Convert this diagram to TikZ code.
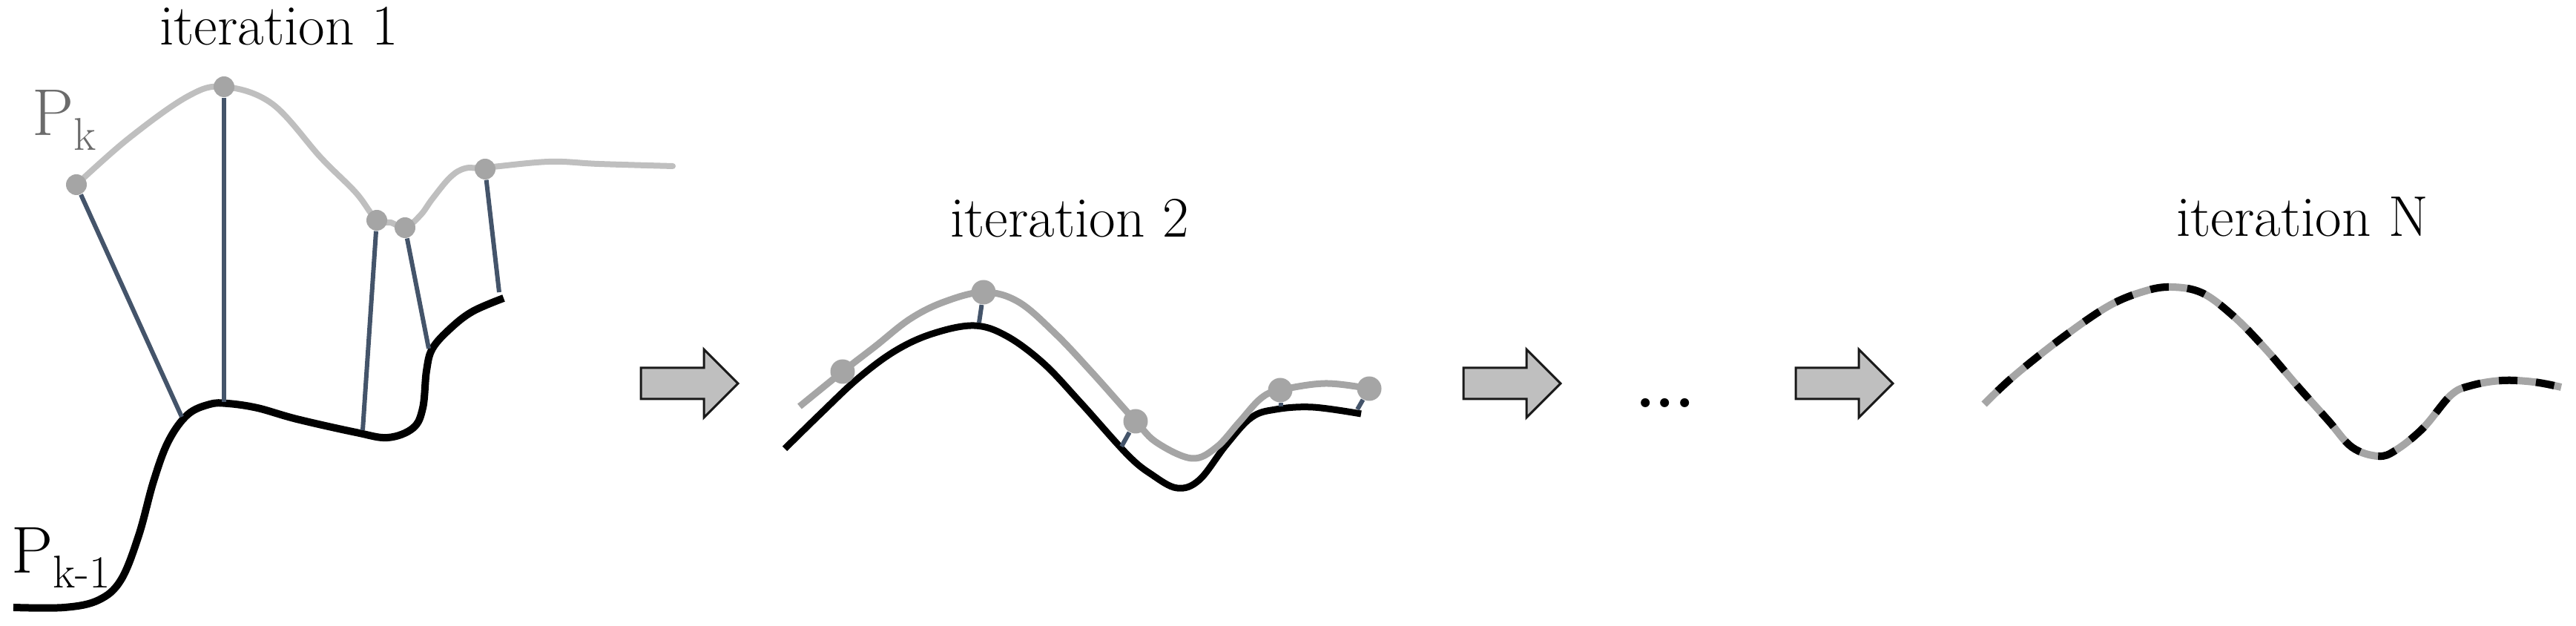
\documentclass[tikz,border=0pt]{standalone}
\usepackage{tikz}
\usetikzlibrary{shapes.arrows}

\definecolor{pkgray}{HTML}{BFBFBF}
\definecolor{dotgray}{HTML}{A5A5A5}
\definecolor{linkblue}{HTML}{44546A}
\definecolor{labelgray}{HTML}{6B6B6B}

\begin{document}
\begin{tikzpicture}[
    title/.style={font=\fontsize{22}{26}\selectfont, inner sep=0pt, anchor=base},
    curvelabel/.style={font=\fontsize{25.4}{30}\selectfont, inner sep=0pt, anchor=base west},
    newcurve/.style={draw=pkgray, line width=0.08cm, line cap=round},
    oldcurve/.style={draw=black, line width=0.1cm},
    link/.style={draw=linkblue, line width=0.06cm},
    sample/.style={circle, fill=dotgray, inner sep=0pt, minimum size=0.28cm},
    bigarrow/.style={single arrow, draw=black!90, line width=0.03cm, fill=pkgray,
        inner sep=0pt, text height=0.39cm, text depth=0pt, minimum height=1.31cm,
        single arrow head extend=0.25cm}
]
    \useasboundingbox (0,0) rectangle (34.73,8.44);

    % Iteration 1
    \node[title] (t1) at (3.76,7.83) {iteration 1};
    \node[curvelabel, text=labelgray] (pk) at (0.43,6.61)
        {P\raisebox{-0.2cm}{\fontsize{17.6}{20}\selectfont k}};
    \node[curvelabel] (pk1) at (0.15,0.71)
        {P\raisebox{-0.2cm}{\fontsize{17.6}{20}\selectfont k-1}};

    \draw[newcurve] plot[smooth, tension=0.6] coordinates {
        (1.03,5.95) (1.73,6.57) (2.53,7.14) (3.02,7.27) (3.67,7.04) (4.33,6.31)
        (4.80,5.84) (5.08,5.47) (5.27,5.44) (5.46,5.37) (5.67,5.54) (5.83,5.76)
        (6.07,6.05) (6.27,6.17) (6.54,6.18) (7.40,6.26) (8.07,6.23) (9.07,6.20)};
    \draw[oldcurve] plot[smooth, tension=0.6] coordinates {
        (0.18,0.25) (0.87,0.25) (1.33,0.35) (1.63,0.62) (1.87,1.22) (2.07,1.95)
        (2.27,2.49) (2.53,2.85) (2.83,2.99) (3.07,3.00) (3.47,2.94) (4.00,2.79)
        (4.80,2.61) (5.23,2.54) (5.57,2.67) (5.70,2.94) (5.75,3.44) (5.83,3.74)
        (6.07,4.01) (6.37,4.24) (6.79,4.42)};

    \node[sample] (a1) at (1.03,5.95) {};
    \node[sample] (a2) at (3.02,7.27) {};
    \node[sample] (a3) at (5.08,5.47) {};
    \node[sample] (a4) at (5.46,5.37) {};
    \node[sample] (a5) at (6.54,6.16) {};
    \coordinate (b1) at (2.45,2.82);
    \coordinate (b2) at (3.02,3.02);
    \coordinate (b3) at (4.89,2.64);
    \coordinate (b4) at (5.78,3.74);
    \coordinate (b5) at (6.73,4.50);
    \foreach \i in {1,...,5}
        \draw[link] (a\i) -- (b\i);

    \node[bigarrow] (arr1) at (9.19,3.27) {};

    % Iteration 2
    \node[title] (t2) at (14.42,5.24) {iteration 2};

    \draw[oldcurve, line width=0.09cm] plot[smooth, tension=0.6] coordinates {
        (10.58,2.39) (11.07,2.87) (11.57,3.34) (12.07,3.71) (12.57,3.94) (13.13,4.05)
        (13.57,3.91) (14.07,3.54) (14.57,3.01) (15.20,2.31) (15.53,2.04) (15.87,1.86)
        (16.17,1.97) (16.53,2.44) (16.87,2.81) (17.20,2.92) (17.70,2.95) (18.35,2.86)};
    \draw[newcurve, draw=dotgray, line width=0.09cm, line cap=butt] plot[smooth, tension=0.6] coordinates {
        (10.78,2.96) (11.36,3.43) (11.80,3.77) (12.27,4.14) (12.73,4.37) (13.26,4.50)
        (13.73,4.37) (14.23,3.94) (14.73,3.41) (15.31,2.76) (15.60,2.47) (16.07,2.26)
        (16.40,2.41) (16.70,2.74) (17.00,3.07) (17.26,3.18) (17.87,3.27) (18.46,3.20)};

    \node[sample, minimum size=0.33cm] (c1) at (11.36,3.43) {};
    \node[sample, minimum size=0.33cm] (c2) at (13.26,4.50) {};
    \node[sample, minimum size=0.33cm] (c3) at (15.31,2.76) {};
    \node[sample, minimum size=0.33cm] (c4) at (17.26,3.18) {};
    \node[sample, minimum size=0.33cm] (c5) at (18.46,3.20) {};
    \coordinate (e2) at (13.20,4.09);
    \coordinate (e3) at (15.12,2.42);
    \coordinate (e4) at (17.27,2.96);
    \coordinate (e5) at (18.30,2.92);
    \foreach \i in {2,...,5}
        \draw[link] (c\i) -- (e\i);

    \node[bigarrow] (arr2) at (20.28,3.27) {};
    \node[inner sep=0pt, anchor=base, font=\fontsize{24}{28}\selectfont\bfseries] (dots) at (22.45,2.94) {...};
    \node[bigarrow] (arr3) at (24.76,3.27) {};

    % Iteration N
    \node[title] (tn) at (31.04,5.25) {iteration N};

    \draw[draw=dotgray, line width=0.1cm,
          postaction={draw=black, dash pattern=on 0.25cm off 0.25cm, dash phase=0.25cm}]
        plot[smooth, tension=0.6] coordinates {
        (26.75,2.99) (27.14,3.36) (27.78,3.87) (28.42,4.31) (28.90,4.51) (29.27,4.57)
        (29.69,4.49) (30.12,4.17) (30.54,3.74) (30.97,3.24) (31.39,2.77) (31.71,2.41)
        (32.06,2.29) (32.30,2.37) (32.67,2.67) (33.04,3.11) (33.31,3.24) (33.73,3.31)
        (34.16,3.29) (34.53,3.22)};
\end{tikzpicture}
\end{document}
